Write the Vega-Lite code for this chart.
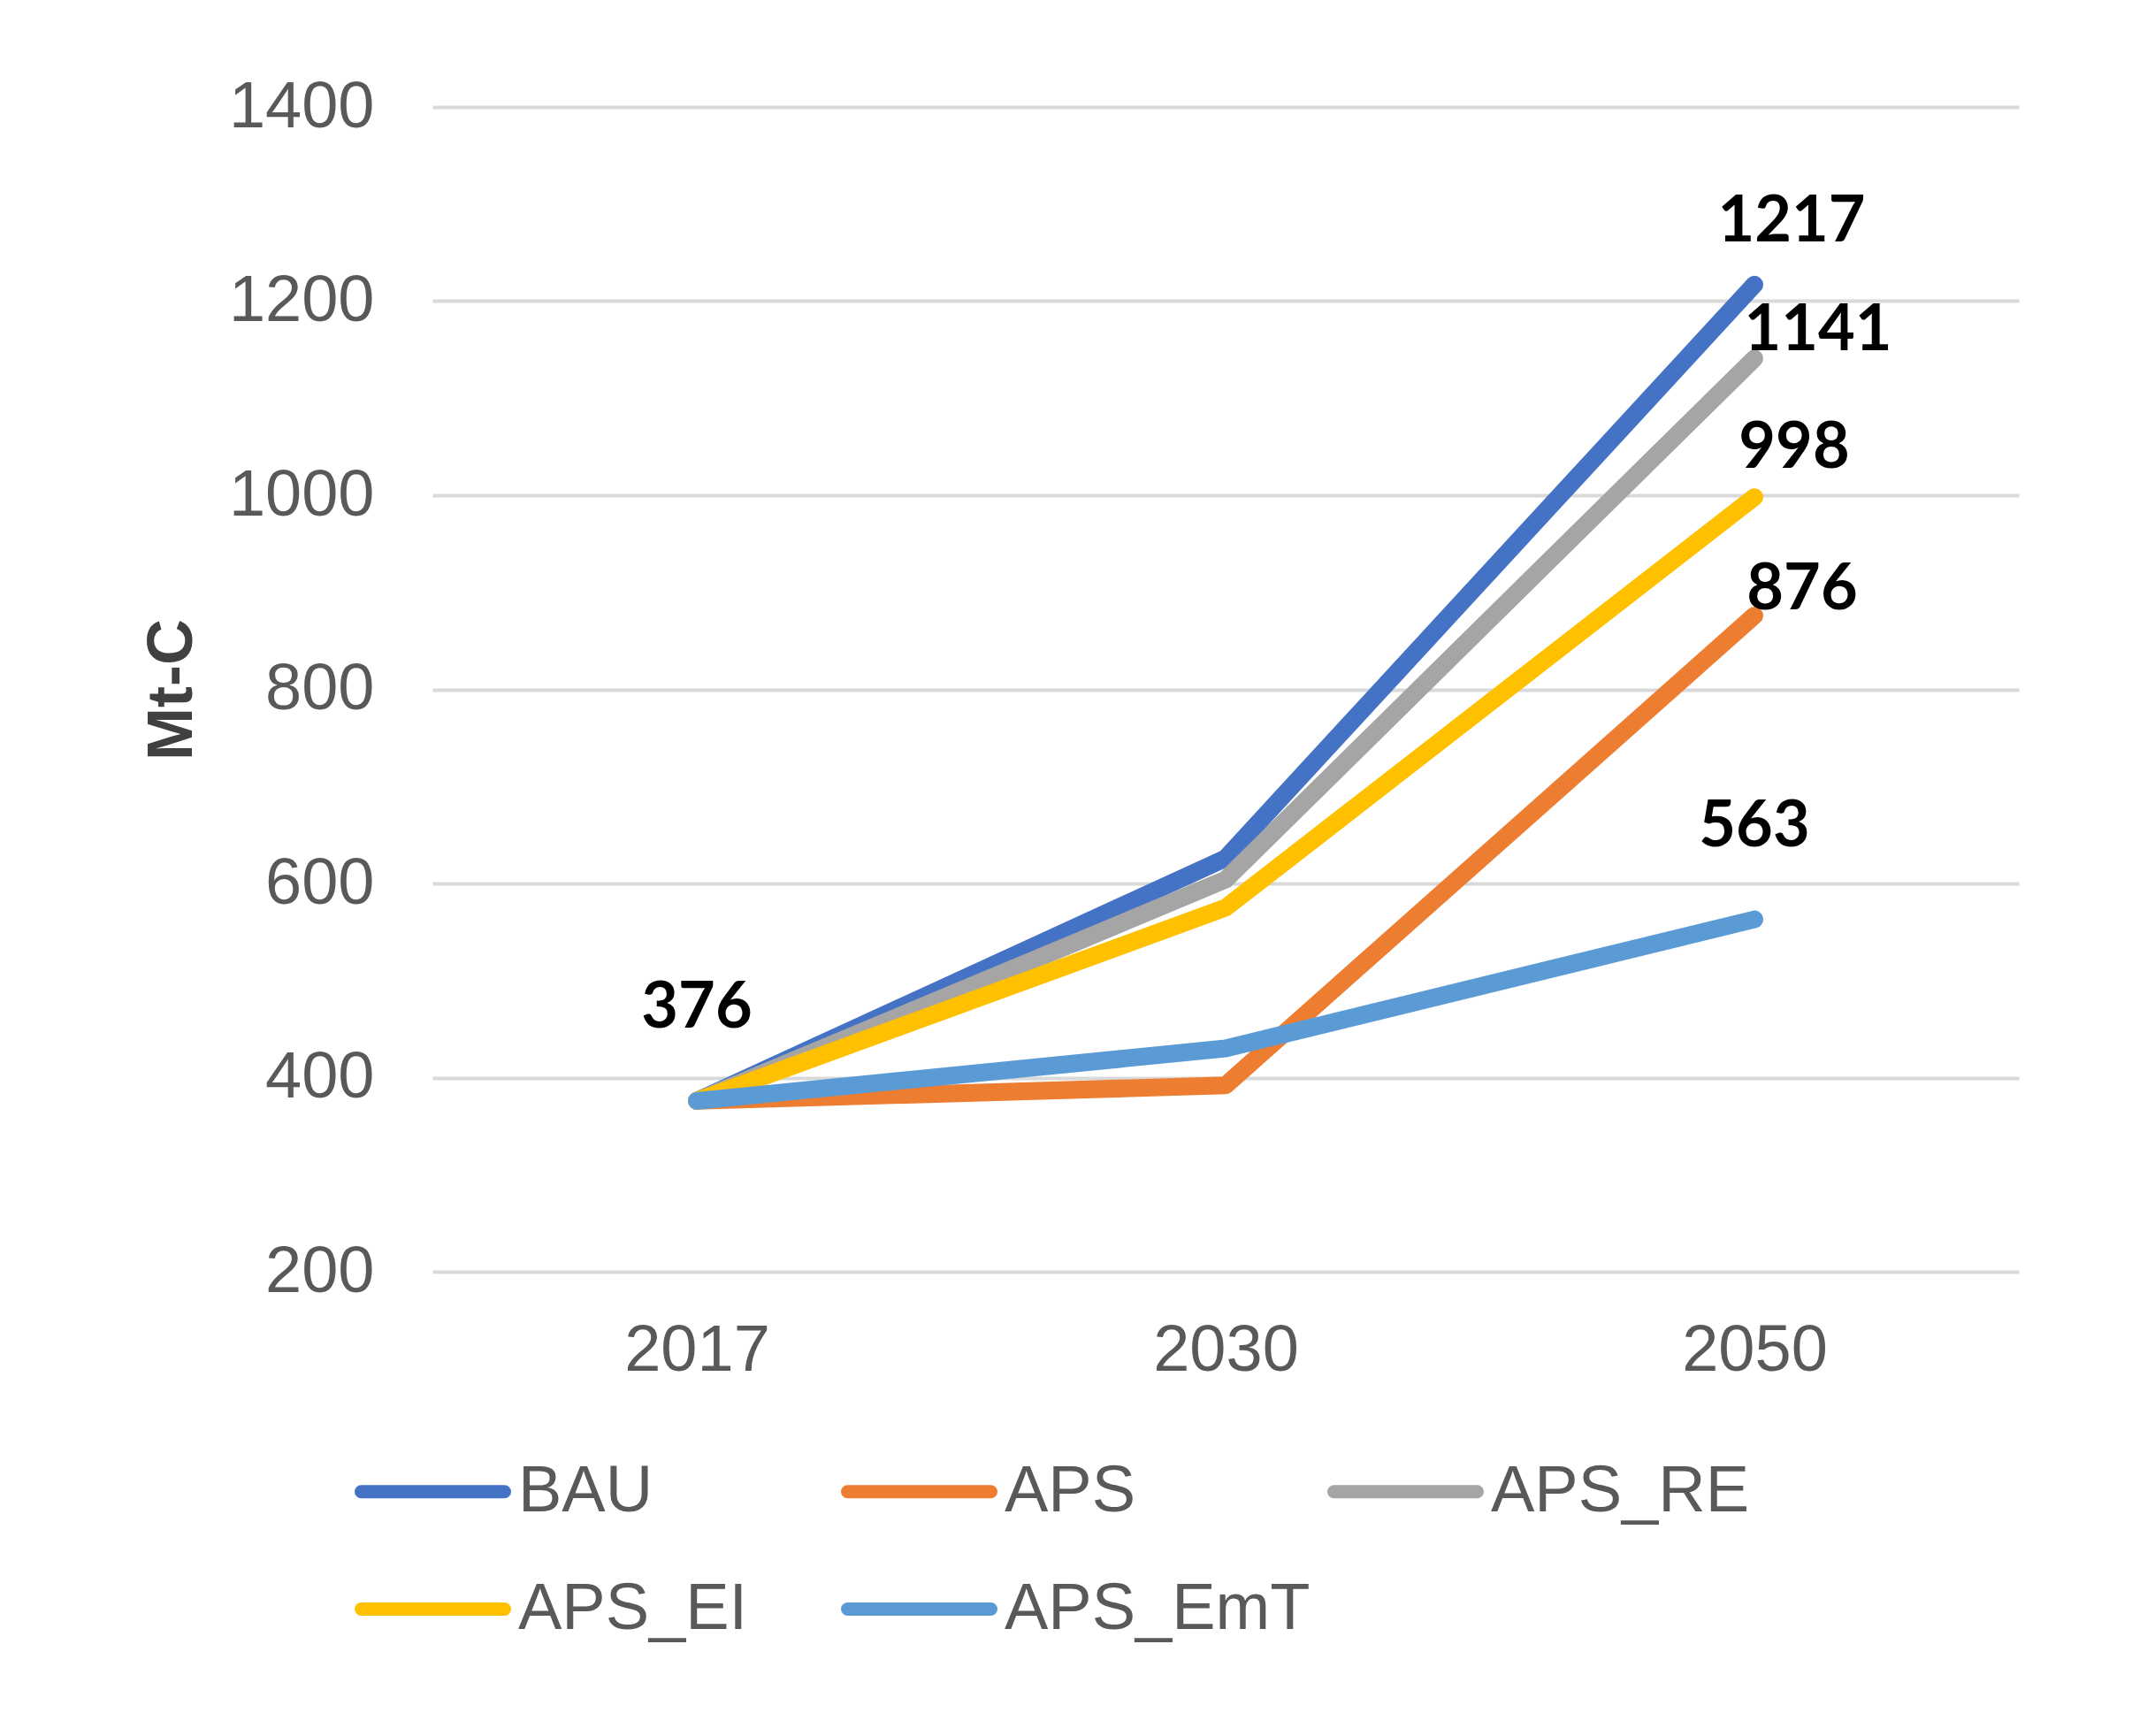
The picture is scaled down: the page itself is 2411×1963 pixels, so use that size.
{
  "$schema": "https://vega.github.io/schema/vega-lite/v6.json",
  "autosize": {"type": "none"},
  "padding": {"left": 489, "top": 121, "right": 128, "bottom": 525},
  "width": 1794,
  "height": 1317,
  "background": "white",
  "config": {
    "view": {"stroke": null},
    "font": "Liberation Sans"
  },
  "data": {
    "values": [
      {"year": "2017", "series": "BAU", "value": 376},
      {"year": "2030", "series": "BAU", "value": 626},
      {"year": "2050", "series": "BAU", "value": 1217},
      {"year": "2017", "series": "APS", "value": 376},
      {"year": "2030", "series": "APS", "value": 392},
      {"year": "2050", "series": "APS", "value": 876},
      {"year": "2017", "series": "APS_RE", "value": 376},
      {"year": "2030", "series": "APS_RE", "value": 604},
      {"year": "2050", "series": "APS_RE", "value": 1141},
      {"year": "2017", "series": "APS_EI", "value": 376},
      {"year": "2030", "series": "APS_EI", "value": 575},
      {"year": "2050", "series": "APS_EI", "value": 998},
      {"year": "2017", "series": "APS_EmT", "value": 376},
      {"year": "2030", "series": "APS_EmT", "value": 430},
      {"year": "2050", "series": "APS_EmT", "value": 563}
    ]
  },
  "encoding": {
    "x": {
      "field": "year", "type": "ordinal",
      "scale": {"type": "point", "padding": 0.5},
      "axis": {
        "title": null, "labelAngle": 0, "domain": false, "ticks": false,
        "grid": false, "labelFontSize": 74, "labelColor": "#595959",
        "labelPadding": 53, "labelFont": "Liberation Sans"
      }
    },
    "y": {
      "field": "value", "type": "quantitative",
      "scale": {"domain": [200, 1400], "nice": false, "zero": false},
      "axis": {
        "title": "Mt-C", "values": [200, 400, 600, 800, 1000, 1200, 1400],
        "format": "d", "labelLimit": 0,
        "domain": false, "ticks": false, "grid": true,
        "gridColor": "#d9d9d9", "gridWidth": 4,
        "labelFontSize": 74, "labelColor": "#595959", "labelPadding": 66,
        "labelFont": "Liberation Sans",
        "titleFont": "Liberation Sans", "titleFontSize": 72,
        "titleFontWeight": "bold", "titleColor": "#404040", "titlePadding": 58
      }
    }
  },
  "layer": [
    {
      "mark": {"type": "line", "strokeWidth": 20, "strokeCap": "round", "strokeJoin": "round"},
      "encoding": {
        "color": {
          "field": "series", "type": "nominal",
          "scale": {
            "domain": ["BAU", "APS", "APS_RE", "APS_EI", "APS_EmT"],
            "range": ["#4472C4", "#ED7D31", "#A5A5A5", "#FFC000", "#5B9BD5"]
          },
          "legend": {
            "title": null, "orient": "none", "legendX": -88, "legendY": 1477,
            "direction": "horizontal", "columns": 3, "gridAlign": "all",
            "symbolType": "stroke", "symbolSize": 26244, "symbolStrokeWidth": 15,
            "labelFontSize": 74, "labelColor": "#595959", "labelFont": "Liberation Sans",
            "labelOffset": 8, "columnPadding": -4, "rowPadding": 7, "padding": 0,
            "labelLimit": 0,
            "encode": {"symbols": {"update": {"strokeCap": {"value": "round"}}}}
          }
        },
        "order": {"field": "year"}
      }
    },
    {
      "transform": [{"filter": "(datum.series === 'BAU' && datum.year === '2017') || (datum.series === 'APS_EmT' && datum.year === '2050')"}],
      "mark": {"type": "text", "font": "Lato", "fontWeight": "bold", "fontSize": 72, "color": "black", "dy": -105, "baseline": "middle", "align": "center"},
      "encoding": {"text": {"field": "value", "type": "quantitative"}}
    },
    {
      "transform": [{"filter": "datum.series === 'BAU' && datum.year === '2050'"}],
      "mark": {"type": "text", "font": "Lato", "fontWeight": "bold", "fontSize": 72, "color": "black", "dx": 42, "dy": -71, "baseline": "middle", "align": "center"},
      "encoding": {"text": {"field": "value", "type": "quantitative"}}
    },
    {
      "transform": [{"filter": "datum.series === 'APS_RE' && datum.year === '2050'"}],
      "mark": {"type": "text", "font": "Lato", "fontWeight": "bold", "fontSize": 72, "color": "black", "dx": 72, "dy": -31, "baseline": "middle", "align": "center"},
      "encoding": {"text": {"field": "value", "type": "quantitative"}}
    },
    {
      "transform": [{"filter": "datum.series === 'APS_EI' && datum.year === '2050'"}],
      "mark": {"type": "text", "font": "Lato", "fontWeight": "bold", "fontSize": 72, "color": "black", "dx": 45, "dy": -55, "baseline": "middle", "align": "center"},
      "encoding": {"text": {"field": "value", "type": "quantitative"}}
    },
    {
      "transform": [{"filter": "datum.series === 'APS' && datum.year === '2050'"}],
      "mark": {"type": "text", "font": "Lato", "fontWeight": "bold", "fontSize": 72, "color": "black", "dx": 54, "dy": -29, "baseline": "middle", "align": "center"},
      "encoding": {"text": {"field": "value", "type": "quantitative"}}
    }
  ]
}
